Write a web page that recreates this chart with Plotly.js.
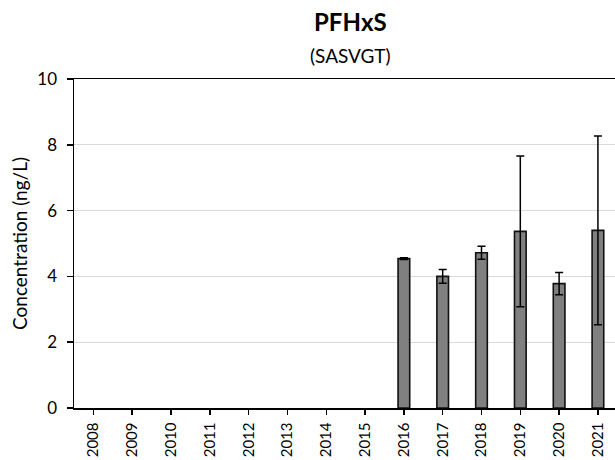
<!DOCTYPE html>
<html>
<head>
<meta charset="utf-8">
<script src="https://cdn.plot.ly/plotly-3.0.1.min.js"></script>
<style>html,body{margin:0;padding:0;overflow:hidden;background:#fff}</style>
</head>
<body>
<div id="chart" style="width:615px;height:460px"></div>
<script>
const years = ["2008","2009","2010","2011","2012","2013","2014","2015","2016","2017","2018","2019","2020","2021"];
const concentration = [null,null,null,null,null,null,null,null,4.54,4.00,4.72,5.37,3.78,5.40];
const errorPlusMinus = [null,null,null,null,null,null,null,null,0.03,0.21,0.20,2.29,0.34,2.87];
const yTicks = [0,2,4,6,8,10];

const FONT = "Lato, 'Liberation Sans', sans-serif";

const trace = {
  type: "bar",
  x: years,
  y: concentration,
  width: 0.3,
  marker: {color: "#808080", line: {color: "#111", width: 1.6}},
  error_y: {type: "data", array: errorPlusMinus, visible: true, color: "#000", thickness: 1.5, width: 4},
  hoverinfo: "x+y"
};

const layout = {
  width: 615, height: 460,
  margin: {l: 74, r: 0, t: 79, b: 52},
  paper_bgcolor: "#fff", plot_bgcolor: "#fff",
  showlegend: false,
  font: {family: FONT, color: "#000"},
  xaxis: {
    type: "category",
    range: [-0.5, 13.44],
    tickangle: -90,
    ticks: "outside", ticklen: 5, tickcolor: "#000", tickwidth: 1.5,
    ticklabelstandoff: 2,
    showline: true, linecolor: "#000", linewidth: 1.5, mirror: true,
    showgrid: false,
    tickfont: {family: FONT, size: 15, color: "#000"},
    fixedrange: true
  },
  yaxis: {
    range: [0, 10],
    tickvals: yTicks,
    ticks: "outside", ticklen: 6, tickcolor: "#000", tickwidth: 1.5,
    ticklabelstandoff: 6,
    showline: true, linecolor: "#000", linewidth: 1.5,
    showgrid: true, gridcolor: "#d9d9d9", gridwidth: 1,
    zeroline: false,
    tickfont: {family: FONT, size: 17, color: "#000"},
    title: {text: "Concentration (ng/L)", font: {family: FONT, size: 19, color: "#000"}, standoff: 4},
    automargin: false,
    fixedrange: true
  },
  annotations: [
    {text: "<b>PFHxS</b>", xref: "paper", yref: "paper", x: (350-74)/541, y: 1 + (79-21)/329,
     xanchor: "center", yanchor: "middle", showarrow: false, font: {family: FONT, size: 24, color: "#000"}},
    {text: "(SASVGT)", xref: "paper", yref: "paper", x: (350-74)/541, y: 1 + (79-55.5)/329,
     xanchor: "center", yanchor: "middle", showarrow: false, font: {family: FONT, size: 19, color: "#000"}}
  ]
};

Plotly.newPlot("chart", [trace], layout, {displayModeBar: false, staticPlot: true});
</script>
</body>
</html>
